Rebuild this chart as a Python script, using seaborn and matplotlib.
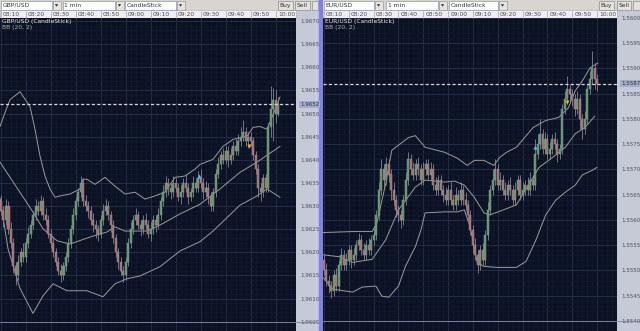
import numpy as np
import pandas as pd
import matplotlib
matplotlib.use("Agg")
import matplotlib.pyplot as plt
import matplotlib.transforms as mtransforms
from matplotlib.patches import Rectangle, Polygon
import seaborn as sns

sns.set_theme(style="dark")
plt.rcParams['font.family'] = ['DejaVu Sans']

# ---------------- data (prices in pips above base) ----------------
TIME_LABELS = ['08:10', '08:20', '08:30', '08:40', '08:50', '09:00',
               '09:10', '09:20', '09:30', '09:40', '09:50', '10:00']

GBP_BASE = 1.9600
GBP_OPEN = [31,29,27,30,25,22,17,15,18,20, 19,22,24,26,28,30,29,31,28,27,
            24,22,20,18,16,15,17,19,22,25, 28,31,33,35,31,30,29,27,26,25,
            24,27,29,30,28,26,23,20,18,16, 15,18,22,25,27,28,26,25,27,26,
            24,25,27,26,28,31,33,35,34,33, 35,34,32,33,35,34,32,33,35,34,
            36,35,33,34,32,30,33,37,39,41, 40,42,40,41,43,42,44,45,46,44,
            45,44,41,38,34,33,36,34,47,51, 53,50]
GBP_HIGH = [32.5,30,31.5,31,26.5,23,18,19.5,21,22, 23,25.5,27,29,31.5,31,32.5,32,29.5,28,
            25,23.5,21,19,17.5,18,20,23,26,29.5, 32,34,36.5,36,32.5,31,30,28.5,27,26,
            28,30.5,31.5,31,29,27,24,21,19,17, 19,23,26.5,28,29.5,29,27,28,28.5,27,
            26.5,28,28,29.5,32,34.5,36.5,36,35,36.5, 36,35,34.5,36,37,35,34,36.5,36,37.5,
            38,36,35.5,35,33,34,38,40.5,42,42.5, 43,43,42.5,44,44.5,45.5,47,48.5,47,46,
            46,45,42,39,35,37,37,48,56,55.5, 55,53.5]
GBP_LOW = [28,25.5,26,24,21,15.5,13,14,17,18, 18,21,23,25,27,28,28,27,26,23,
           21,19,17,15,13.5,14,16,18,21,24, 27,30,32,30,29,27.5,26,24.5,23,22.5,
           23,26,28,27,24.5,22,19,16.5,15,13.5, 14,17,21,24,26,25,23.5,24,25,23,
           22.5,24,24.5,25,27,30,32,32.5,31.5,32, 33,31,30.5,32,33,30.5,31,32,33,33,
           34,31.5,32,30.5,29,29,32,36,38,39, 39,38.5,39,40,41,41,43,44,43,42.5,
           43,40,37,32,31,32,33,33,45,44, 48,49.5]
GBP_CLOSE = [29,27,30,25,22,17,15,18,20,19, 22,24,26,28,30,29,31,28,27,24,
             22,20,18,16,15,17,19,22,25,28, 31,33,35,31,30,29,27,26,25,24,
             27,29,30,28,26,23,20,18,16,15, 18,22,25,27,28,26,25,27,26,24,
             25,27,26,28,31,33,35,34,33,35, 34,32,33,35,34,32,33,35,34,36,
             35,33,34,32,30,33,37,39,41,40, 42,40,41,43,42,44,45,46,44,45,
             44,41,38,34,33,36,34,47,51,53, 50,52]
GBP_UP_T = [-0.4, 1.6, 3.6, 7.6, 11.6, 13.6, 15.6, 17.6, 19.6, 21.6, 23.6, 27.6, 31.6,
            32.8, 34.4, 37.6, 41.6, 45.6, 49.6, 53.6, 57.6, 61.6, 65.6, 69.6, 73.6,
            77.6, 79.6, 84.8, 88.8, 92.8, 98.4, 100.8, 103.6, 106.4, 109.0, 111.6]
GBP_UP_V = [47.2, 50.2, 53.0, 54.7, 51.5, 46.6, 40.8, 36.5, 33.7, 31.9, 32.2, 32.6, 33.7,
            35.8, 35.8, 34.7, 36.2, 34.3, 32.6, 33.0, 31.5, 32.2, 33.0, 36.2, 36.5,
            38.0, 39.0, 40.1, 42.9, 44.4, 45.1, 47.0, 47.2, 46.6, 50.0, 53.6]
GBP_MID_T = [-0.4, 12.8, 16.8, 22.4, 27.6, 35.6, 42.4, 45.6, 49.6, 58.4, 63.6, 71.6,
             79.6, 87.6, 95.6, 102.4, 111.6]
GBP_MID_V = [39.5, 28.7, 25.1, 22.5, 21.8, 23.3, 24.4, 25.5, 24.6, 24.6, 25.9, 28.3,
             30.4, 33.7, 37.3, 39.5, 42.9]
GBP_LO_T = [-0.4, 2.8, 7.6, 12.8, 16.8, 20.8, 26.4, 34.4, 40.8, 45.6, 50.4, 55.6, 63.6,
            71.6, 79.6, 84.8, 95.6, 102.4, 106.4, 111.6]
GBP_LO_V = [31.7, 20.8, 12.2, 6.8, 10.6, 13.2, 11.7, 11.7, 10.4, 13.2, 14.3, 14.9, 16.9,
            20.3, 22.3, 24.6, 30.2, 32.2, 33.7, 31.9]
GBP_LAST = 52
GBP_BUY = (79.2, 36.5)
GBP_SELL = (99.2, 42.9)

EUR_BASE = 1.5500
EUR_OPEN = [52,50,48,47,46,49,47,51,53,51, 52,54,52,53,55,56,54,53,55,54,
            56,57,61,66,70,68,71,69,66,64, 62,61,60,64,68,72,70,69,71,70,
            68,70,71,69,70,67,66,68,66,65, 64,66,64,63,65,64,66,64,63,61,
            58,55,53,51,54,52,57,62,66,68, 70,67,68,66,65,67,66,64,66,68,
            65,66,67,66,68,67,73,75,77,74, 76,73,74,76,75,73,74,82,84,86,
            85,84,82,84,80,78,80,86,88,90, 88]
EUR_HIGH = [53,51.5,49,48,50,50.5,52,54.5,54,53.5, 55,55,54.5,56,57.5,57,55.5,56,56.5,57,
            58.5,62,67.5,72,71,72.5,72,70,67.5,65, 63,62,65,69.5,73.5,73,71.5,72,72.5,71,
            71.5,72,72,71.5,71,68.5,69,69,67,66.5, 67,67.5,65,66.5,66,67.5,67,65.5,64,62,
            59,56.5,54,55,55.5,58,63.5,67,70,72, 71,69.5,69,67.5,68,68.5,67,67.5,69,69,
            67.5,68,68.5,69.5,69,76,77,80,78,77.5, 77,75.5,77,77.5,76,75,83,85.5,88.5,87,
            86,85,85.5,85,81,81.5,87,89.5,93.5,91, 89]
EUR_LOW = [49,47,45.5,44.5,45,46,46,50,50,50, 51,50.5,51,52,54,53,52,52,53,53,
           55,56,60,65,66.5,67,67.5,64,63,60.5, 59.5,58.5,59,63,67,69,68,68,69,67,
           67,69,68,68,66,65,65,65,63.5,63, 63,63,62,62,63,63,63,62,60,57,
           53.5,52,49.5,50,51,51,56,61,65,67, 66,66,65,64,64,65,63,63,65,64,
           64,65,65,65,66,66,72,74,73,73, 72,72,73,74,71.5,72,73,81,83,83.5,
           82.5,80.5,81,78,76,77,79,85,87,86, 85.5]
EUR_CLOSE = [50,48,47,46,49,47,51,53,51,52, 54,52,53,55,56,54,53,55,54,56,
             57,61,66,70,68,71,69,66,64,62, 61,60,64,68,72,70,69,71,70,68,
             70,71,69,70,67,66,68,66,65,64, 66,64,63,65,64,66,64,63,61,58,
             55,53,51,54,52,57,62,66,68,70, 67,68,66,65,67,66,64,66,68,65,
             66,67,66,68,67,73,75,77,74,76, 73,74,76,75,73,74,82,84,86,85,
             84,82,84,80,78,80,86,88,90,88, 87]
EUR_UP_T = [-0.4, 11.5, 19.4, 21.3, 24.9, 27.3, 34.0, 36.8, 40.7, 48.6, 53.8, 57.7, 60.5,
            64.4, 68.4, 70.8, 73.5, 77.5, 84.2, 89.3, 94.5, 98.4, 101.2, 104.0, 107.1, 110.3]
EUR_UP_V = [57.5, 57.7, 57.7, 59.4, 67.3, 73.8, 76.3, 76.7, 74.4, 73.4, 72.2, 70.8, 71.8,
            71.8, 70.8, 72.4, 73.4, 74.4, 78.3, 79.7, 80.3, 82.2, 85.6, 87.5, 90.1, 91.1]
EUR_MID_T = [-0.4, 6.3, 11.5, 19.4, 24.9, 30.0, 36.8, 40.7, 48.6, 52.6, 56.5, 60.5, 64.4,
             66.8, 72.3, 77.5, 86.6, 92.1, 97.2, 101.2, 105.1, 109.1]
EUR_MID_V = [53.1, 52.7, 51.6, 52.2, 56.1, 62.0, 66.5, 67.9, 67.5, 67.7, 66.9, 64.5, 61.4,
             61.0, 62.0, 63.0, 70.4, 72.4, 74.4, 77.1, 78.3, 80.6]
EUR_LO_T = [-0.4, 3.6, 11.5, 15.4, 20.9, 23.3, 26.1, 30.0, 32.8, 36.8, 39.1, 40.7, 48.6,
            53.8, 56.5, 58.9, 61.7, 64.4, 69.6, 77.5, 81.4, 85.4, 89.3, 93.3, 97.2, 101.2,
            104.0, 107.9, 109.9]
EUR_LO_V = [48.6, 46.3, 45.7, 46.7, 46.9, 44.9, 44.7, 46.9, 50.8, 54.7, 58.1, 61.4, 61.6,
            61.6, 62.0, 58.6, 51.6, 50.8, 50.6, 50.6, 51.8, 56.1, 61.0, 63.9, 65.5, 66.9,
            68.9, 69.8, 70.4]
EUR_LAST = 87
EUR_BUY = (85.0, 74.4)
EUR_SELL = (98.0, 83.4)

# ---------------- styles ----------------
W, H = 640, 331
BG = '#0b1224'
GRID_MAJ = '#232d47'
GRID_MIN = '#141b30'
WICK = '#8b9099'
UPC = '#5f9e5f'
DNC = '#b96a6a'
BAND = '#9b9b9b'
STRIP = '#c6cad6'
TOOL = '#d8d5d0'
FS = 4.3
FSY = 4.0

fig = plt.figure(figsize=(W / 100, H / 100), dpi=100)
fig.patch.set_facecolor(TOOL)


def frect(x0, y0, x1, y1, fc, ec='none', lw=0.0, z=-1):
    fig.patches.append(Rectangle((x0 / W, 1 - y1 / H), (x1 - x0) / W, (y1 - y0) / H,
                                 transform=fig.transFigure, facecolor=fc,
                                 edgecolor=ec, linewidth=lw, zorder=z))


def ftext(x, y, s, **kw):
    fig.text(x / W, 1 - y / H, s, **kw)


def combo(x0, x1, text):
    frect(x0 + 0.5, 1, x1 - 9, 9.5, 'white', '#8a98b0', 0.5, 1)
    ftext(x0 + 2.5, 5.4, text, fontsize=FS, color='#303030', va='center', ha='left')
    frect(x1 - 8.5, 1, x1 - 0.5, 9.5, '#e6e4e0', '#9a9a9a', 0.5, 1)
    cx, cy = (x1 - 4.5) / W, 1 - 5.3 / H
    fig.patches.append(Polygon([[cx - 1.6 / W, cy + 1.0 / H], [cx + 1.6 / W, cy + 1.0 / H],
                                [cx, cy - 1.3 / H]], closed=True, transform=fig.transFigure,
                               facecolor='#202020', edgecolor='none', zorder=2))


def button(x0, x1, text):
    frect(x0, 1, x1, 10, '#e4e2de', '#8c8c8c', 0.5, 1)
    if text:
        ftext((x0 + x1) / 2, 5.6, text, fontsize=FS, color='#303030', va='center', ha='center')


panels = [
    dict(sym='GBP/USD', base=GBP_BASE, o=GBP_OPEN, h=GBP_HIGH, l=GBP_LOW, c=GBP_CLOSE,
         ut=GBP_UP_T, uv=GBP_UP_V, mt=GBP_MID_T, mv=GBP_MID_V, lt=GBP_LO_T, lv=GBP_LO_V,
         last=GBP_LAST, buy=GBP_BUY, sell=GBP_SELL,
         px0=0, px1=296, strip1=316, tx0=1.0, tppm=2.5, yref=21.0, pref=70, pxpp=4.65,
         ticks=range(5, 71, 5), combo=[(0, 61), (62, 124), (124, 185)],
         buttons=[(278, 293, 'Buy'), (295, 310, 'Sell'), (312, 318, '')]),
    dict(sym='EUR/USD', base=EUR_BASE, o=EUR_OPEN, h=EUR_HIGH, l=EUR_LOW, c=EUR_CLOSE,
         ut=EUR_UP_T, uv=EUR_UP_V, mt=EUR_MID_T, mv=EUR_MID_V, lt=EUR_LO_T, lv=EUR_LO_V,
         last=EUR_LAST, buy=EUR_BUY, sell=EUR_SELL,
         px0=323, px1=617, strip1=640, tx0=324.0, tppm=2.53, yref=16.5, pref=100, pxpp=5.09,
         ticks=range(40, 101, 5), combo=[(323, 383), (385, 447), (448, 507)],
         buttons=[(599, 614, 'Buy'), (617, 631, 'Sell'), (633, 640, '')]),
]

TOP, BOT = 18, 331

for P in panels:
    base = P['base']
    price = lambda v, b=base: b + np.asarray(v, dtype=float) * 1e-4
    # axis strip and time strip (drawn under the axes)
    frect(P['px1'], 10, P['strip1'], H, STRIP)
    frect(P['px0'], 10, P['px1'], TOP, '#eeeef0', '#a8a8b0', 0.4)
    ax = fig.add_axes([P['px0'] / W, 1 - BOT / H, (P['px1'] - P['px0']) / W, (BOT - TOP) / H])
    ax.set_facecolor(BG)
    xl = ((P['px0'] - P['tx0']) / P['tppm'], (P['px1'] - P['tx0']) / P['tppm'])
    ytop = P['pref'] + (P['yref'] - TOP) / P['pxpp']
    ybot = P['pref'] - (BOT - P['yref']) / P['pxpp']
    ax.set_xlim(*xl)
    ax.set_ylim(base + ybot * 1e-4, base + ytop * 1e-4)

    # grid
    ax.set_xticks(np.arange(0, 120, 10))
    ax.set_xticks(np.arange(0, 120, 2), minor=True)
    ax.set_yticks(price(list(P['ticks'])))
    ax.set_yticks(price(np.arange(int(ybot), int(ytop) + 1)), minor=True)
    ax.grid(which='major', color=GRID_MAJ, lw=0.7)
    ax.grid(which='minor', color=GRID_MIN, lw=0.4)
    ax.tick_params(axis='x', which='both', bottom=False, top=False,
                   labelbottom=False, labeltop=False)
    ax.yaxis.tick_right()
    ax.tick_params(axis='y', which='both', left=False, right=False, labelleft=False,
                   labelright=True, labelsize=FSY, labelcolor='#4a4e5a', pad=3.2, length=0)
    ax.set_yticklabels([f'{base + t * 1e-4:.4f}' for t in P['ticks']])
    for s in ax.spines.values():
        s.set_visible(False)

    # bands via seaborn
    for tt, vv in ((P['ut'], P['uv']), (P['mt'], P['mv']), (P['lt'], P['lv'])):
        df = pd.DataFrame({'t': tt, 'p': price(vv)})
        sns.lineplot(data=df, x='t', y='p', ax=ax, color=BAND, lw=0.7,
                     estimator=None, sort=False, zorder=3)
    ax.set_xlabel('')
    ax.set_ylabel('')

    # candles
    o, hh, ll, c = (np.asarray(a, float) for a in (P['o'], P['h'], P['l'], P['c']))
    t = np.arange(len(c))
    ax.vlines(t, price(ll), price(hh), color=WICK, lw=0.55, zorder=4)
    for ti, oi, ci in zip(t, o, c):
        lo, hi = min(oi, ci), max(oi, ci)
        col = UPC if ci >= oi else DNC
        ax.add_patch(Rectangle((ti - 0.4, base + lo * 1e-4), 0.8, max(hi - lo, 0.15) * 1e-4,
                               facecolor=col, edgecolor=WICK, lw=0.35, zorder=5))

    # signals
    ax.scatter([P['buy'][0]], [price(P['buy'][1])], marker='^', s=9, color='#5ab4ee',
               zorder=6, linewidths=0)
    ax.scatter([P['sell'][0]], [price(P['sell'][1])], marker='v', s=9, color='#eeaa40',
               zorder=6, linewidths=0)

    # current price dashed line
    ax.axhline(price(P['last']), color='#d8d8d8', lw=0.9, ls=(0, (2.5, 1.8)), zorder=7)
    # bottom border line
    ax.axhline(price(min(P['ticks'])), color='#7a82a0', lw=0.7, zorder=2)
    trans = mtransforms.blended_transform_factory(ax.transAxes, ax.transData)
    ax.plot([1.0, (P['strip1'] - P['px0']) / (P['px1'] - P['px0'])],
            [price(min(P['ticks']))] * 2, transform=trans, color='#7a82a0', lw=0.6,
            clip_on=False)
    ax.text(1.0 + 4.0 / (P['px1'] - P['px0']), price(P['last']), f'{base + P["last"] * 1e-4:.4f}',
            transform=trans, fontsize=FSY, color='#30344a', va='center', ha='left', zorder=9,
            bbox=dict(boxstyle='square,pad=0.2', facecolor='#a3adc9', edgecolor='none'))

    # titles
    ax.text(2 / (P['px1'] - P['px0']), 1 - 3.5 / (BOT - TOP), f"{P['sym']} (CandleStick)",
            transform=ax.transAxes, fontsize=FS, color='#f0f0f0', va='center', ha='left')
    ax.text(2 / (P['px1'] - P['px0']), 1 - 10.0 / (BOT - TOP), 'BB (20, 2)',
            transform=ax.transAxes, fontsize=FS, color='#b0b0b0', va='center', ha='left')

    # time labels on the strip above the plot
    ttrans = mtransforms.blended_transform_factory(ax.transData, ax.transAxes)
    for k, lab in enumerate(TIME_LABELS):
        tk = k * 10
        ax.plot([tk, tk], [1 + 0.5 / (BOT - TOP), 1 + 7.5 / (BOT - TOP)], transform=ttrans,
                color='#a0a4b0', lw=0.5, clip_on=False)
        ax.text(tk + 0.8, 1 + 3.8 / (BOT - TOP), lab, transform=ttrans, fontsize=FS,
                color='#4a4a55', va='center', ha='left', clip_on=False)

    # toolbar
    for (a, b), txt in zip(P['combo'], [P['sym'], '1 min', 'CandleStick']):
        combo(a, b, txt)
    for a, b, txt in P['buttons']:
        button(a, b, txt)

# divider between the two panels
frect(316.5, 0, 319, H, '#b9bce4')
frect(319, 0, 322.5, H, '#7d82e6')

fig.savefig('out.png', dpi=100, facecolor=fig.get_facecolor())
